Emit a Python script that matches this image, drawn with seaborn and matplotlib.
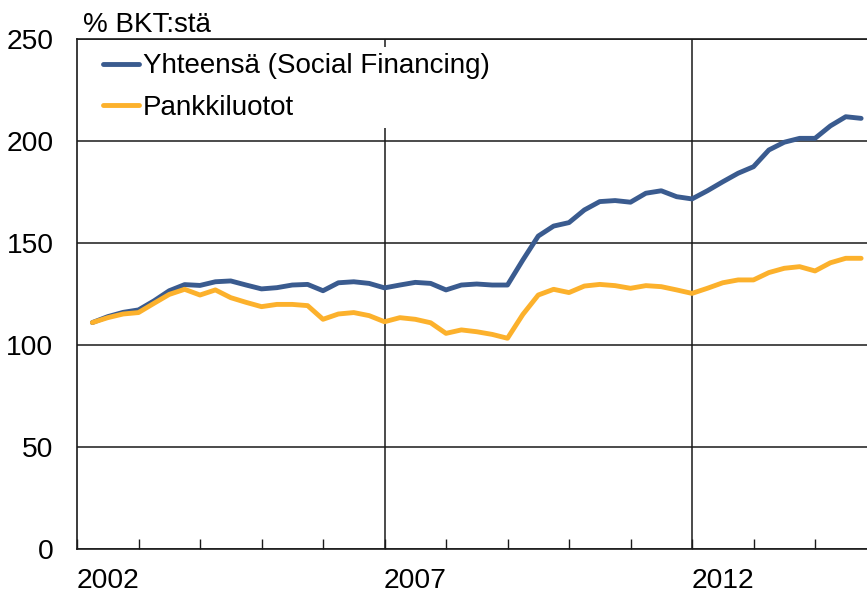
import pandas as pd
import matplotlib
matplotlib.use('Agg')
import matplotlib.pyplot as plt
import seaborn as sns

# quarterly data, 2002Q1 - 2014Q3, % of GDP
quarters = pd.period_range('2002Q1', '2014Q3', freq='Q')
social_financing = [111, 113.9, 116, 117.2, 121.6, 126.6, 129.6, 129.2, 131, 131.4,
                    129.4, 127.5, 128.1, 129.4, 129.7, 126.6, 130.5, 131, 130.2, 128,
                    129.4, 130.7, 130.2, 127, 129.4, 129.9, 129.4, 129.4, 141.7, 153.4,
                    158.3, 160, 166.2, 170.3, 170.8, 170, 174.4, 175.6, 172.7, 171.6,
                    175.6, 180, 184.2, 187.4, 195.6, 199.4, 201.3, 201.3, 207.4, 211.9,
                    211.1]
bank_loans = [111, 113.4, 115.2, 115.9, 120.4, 124.8, 127.3, 124.5, 127, 123.2,
              120.9, 118.8, 119.9, 119.9, 119.3, 112.6, 115.2, 115.9, 114.4, 111.4,
              113.4, 112.6, 110.9, 105.7, 107.4, 106.5, 105.2, 103.3, 115, 124.5,
              127.3, 125.7, 128.9, 129.7, 129.1, 127.8, 129.1, 128.6, 127, 125.3,
              127.8, 130.5, 131.9, 131.9, 135.5, 137.6, 138.4, 136.3, 140.3, 142.5,
              142.5]
series_names = ['Yhteensä (Social Financing)', 'Pankkiluotot']
colors = ['#3a5b8f', '#fcb12c']
year_labels = [2002, 2007, 2012]
grid_years = [2007, 2012]

# x position = end of quarter in fractional years
xpos = [q.year + q.quarter / 4 for q in quarters]
df = pd.DataFrame({'x': xpos * 2,
                   'value': social_financing + bank_loans,
                   'series': [series_names[0]] * len(xpos) + [series_names[1]] * len(xpos)})

sns.set_style('white')
plt.rcParams['font.family'] = ['Liberation Sans', 'DejaVu Sans']
plt.rcParams['text.color'] = 'black'
plt.rcParams['xtick.color'] = 'black'
plt.rcParams['ytick.color'] = 'black'
plt.rcParams['xtick.labelcolor'] = 'black'
plt.rcParams['ytick.labelcolor'] = 'black'

fig = plt.figure(figsize=(8.67, 5.96), dpi=100)
ax = fig.add_axes([77 / 867, 47 / 596, 790 / 867, 510 / 596])

sns.lineplot(data=df, x='x', y='value', hue='series', palette=dict(zip(series_names, colors)),
             linewidth=3.5, legend=False, ax=ax, zorder=3)
for ln in ax.lines:
    ln.set_solid_capstyle('round')
    ln.set_solid_joinstyle('round')

ax.set_xlim(2002, 2002 + 790 / 61.5)
ax.set_ylim(0, 250)
ax.set_yticks([0, 50, 100, 150, 200, 250])
ax.yaxis.grid(True, color='#1a1a1a', linewidth=1.1)
ax.set_axisbelow(True)
for yr in grid_years:
    ax.axvline(yr, color='#1a1a1a', linewidth=1.1, zorder=1)

ax.set_xticks(range(2002, 2015))
ax.set_xticklabels([])
ax.set_xticks([y + 0.5 for y in year_labels], minor=True)
ax.set_xticklabels([str(y) for y in year_labels], minor=True, fontsize=20.3)
ax.tick_params(axis='x', which='major', direction='in', length=7, width=1, color='#1a1a1a', bottom=True)
ax.tick_params(axis='x', which='minor', length=0, pad=14)
ax.tick_params(axis='y', length=0, pad=17, labelsize=20.3)
ax.set_xlabel('')
ax.set_ylabel('')

for side in ['left', 'top', 'bottom']:
    ax.spines[side].set_color('#1a1a1a')
    ax.spines[side].set_linewidth(1.2)
ax.spines['right'].set_visible(False)

leg = ax.legend(ax.lines[:2], series_names, loc='upper left', bbox_to_anchor=(0.014, 1.0),
                fontsize=20, frameon=True, facecolor='white', edgecolor='none', framealpha=1,
                handlelength=1.3, handletextpad=0.15, labelspacing=0.56, borderpad=0.25,
                borderaxespad=0.27)
leg.get_frame().set_boxstyle('square', pad=0)
leg.set_zorder(5)

fig.text(83 / 867, 1 - 32 / 596, '% BKT:stä', fontsize=20, va='baseline', ha='left')

fig.savefig('out.png', dpi=100)
